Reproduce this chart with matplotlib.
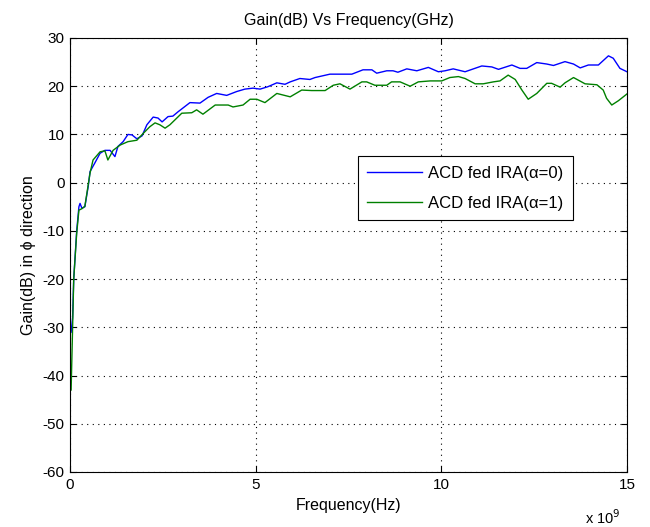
import numpy as np
import matplotlib.pyplot as plt
from matplotlib.ticker import FuncFormatter

plt.rcParams['font.family'] = ['Liberation Sans', 'DejaVu Sans']
plt.rcParams['axes.unicode_minus'] = False

# frequency in GHz, gain in dB
freq_a0 = [0.03, 0.07, 0.10, 0.18, 0.24, 0.27, 0.32, 0.40, 0.49, 0.54, 0.67, 0.81, 0.94, 1.08,
           1.21, 1.29, 1.43, 1.56, 1.67, 1.80, 1.94, 2.07, 2.24, 2.37, 2.48, 2.64, 2.77, 2.91,
           3.23, 3.50, 3.72, 3.95, 4.22, 4.49, 4.71, 4.93, 5.12, 5.33, 5.57, 5.79, 5.93, 6.19,
           6.46, 6.60, 7.00, 7.59, 7.89, 8.13, 8.26, 8.53, 8.70, 8.83, 9.07, 9.34, 9.65, 9.92,
           10.10, 10.32, 10.64, 11.09, 11.36, 11.54, 11.90, 12.12, 12.30, 12.57, 12.84, 13.02,
           13.33, 13.56, 13.74, 13.96, 14.23, 14.50, 14.63, 14.81, 15.0]
gain_a0 = [-31, -28, -20, -10, -5, -4.3, -5.3, -5, -0.8, 2.3, 4.1, 6.1, 6.7, 6.7,
           5.4, 7.5, 8.5, 10.0, 9.9, 9.1, 9.7, 12.0, 13.6, 13.4, 12.6, 13.7, 13.8, 14.7,
           16.6, 16.5, 17.7, 18.5, 18.1, 18.9, 19.4, 19.6, 19.4, 19.9, 20.7, 20.4, 20.9, 21.6,
           21.4, 21.8, 22.5, 22.5, 23.4, 23.4, 22.7, 23.2, 23.2, 22.9, 23.6, 23.2, 23.9, 23.0,
           23.2, 23.6, 23.0, 24.2, 24.0, 23.5, 24.4, 23.7, 23.7, 24.9, 24.6, 24.3,
           25.1, 24.6, 23.8, 24.4, 24.4, 26.3, 25.8, 23.7, 23.0]

freq_a1 = [0.03, 0.07, 0.10, 0.18, 0.24, 0.32, 0.40, 0.54, 0.62, 0.81, 0.94, 1.02, 1.16, 1.35,
           1.56, 1.80, 1.97, 2.15, 2.29, 2.42, 2.56, 2.69, 3.01, 3.28, 3.41, 3.58, 3.91, 4.26,
           4.39, 4.66, 4.85, 5.03, 5.25, 5.57, 5.93, 6.24, 6.51, 6.87, 7.09, 7.27, 7.54, 7.86,
           7.99, 8.21, 8.53, 8.66, 8.89, 9.16, 9.38, 9.70, 10.01, 10.23, 10.46, 10.64, 10.91,
           11.13, 11.40, 11.58, 11.80, 11.99, 12.17, 12.34, 12.57, 12.84, 12.97, 13.20, 13.33,
           13.56, 13.87, 14.19, 14.36, 14.45, 14.59, 14.77, 15.0]
gain_a1 = [-43, -30, -20, -10.5, -5.7, -5.4, -4.9, 2.0, 4.7, 6.4, 6.6, 4.7, 6.7, 7.8,
           8.5, 8.8, 10.2, 11.6, 12.4, 12.0, 11.3, 12.0, 14.4, 14.5, 15.1, 14.2, 16.1, 16.1,
           15.7, 16.1, 17.3, 17.3, 16.6, 18.5, 17.8, 19.2, 19.1, 19.1, 20.2, 20.5, 19.4, 20.9,
           20.9, 20.2, 20.2, 20.9, 20.9, 20.0, 20.9, 21.1, 21.1, 21.8, 22.0, 21.6, 20.5,
           20.5, 20.9, 21.1, 22.3, 21.4, 19.2, 17.3, 18.5, 20.6, 20.6, 19.8, 20.7,
           21.8, 20.5, 20.3, 19.2, 17.5, 16.1, 17.0, 18.4]

fig = plt.figure(figsize=(6.5, 5.27), dpi=100)
ax = fig.add_axes([0.1077, 0.1044, 0.8569, 0.8235])

ax.plot(np.array(freq_a0) * 1e9, gain_a0, color='#0000ff', lw=1.0, label='ACD fed IRA(\u03b1=0)')
ax.plot(np.array(freq_a1) * 1e9, gain_a1, color='#008000', lw=1.0, label='ACD fed IRA(\u03b1=1)')

ax.set_xlim(0, 15e9)
ax.set_ylim(-60, 30)
ax.set_xticks([0, 5e9, 10e9, 15e9])
ax.set_yticks(range(-60, 31, 10))
ax.xaxis.set_major_formatter(FuncFormatter(lambda v, p: '%g' % (v / 1e9)))
ax.tick_params(direction='in', top=True, right=True, labelsize=11, length=4, width=0.8, pad=4)
ax.grid(True, color='black', linestyle=(0, (1, 4)), linewidth=0.8)
for s in ax.spines.values():
    s.set_linewidth(0.8)

ax.set_title('Gain(dB) Vs Frequency(GHz)', fontsize=11.5, pad=9)
ax.set_xlabel('Frequency(Hz)', fontsize=11.5, labelpad=5)
ax.set_ylabel('Gain(dB) in \u03d5 direction', fontsize=11.5, labelpad=5)
fig.text(0.9, 0.006, 'x 10$^9$', fontsize=10.5)

leg = ax.legend(loc='center', bbox_to_anchor=(0.71, 0.654), fontsize=12, fancybox=False,
                framealpha=1, edgecolor='black', handlelength=3.3, handletextpad=0.35,
                borderpad=0.55, labelspacing=0.9)
leg.get_frame().set_linewidth(0.8)

fig.savefig('out.png', dpi=100)
